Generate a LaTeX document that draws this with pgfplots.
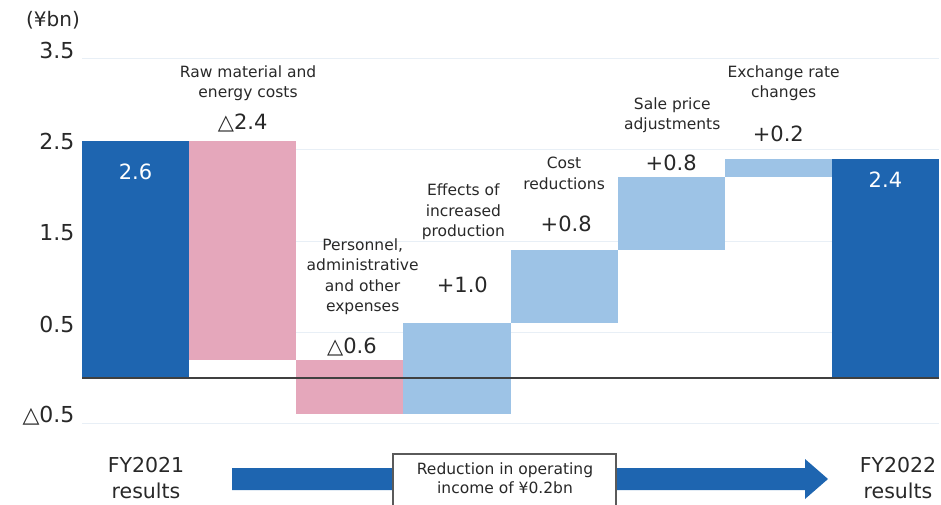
\documentclass[border=0pt]{standalone}
\usepackage{pgfplots}
\pgfplotsset{compat=1.18}
\usepackage{fontspec}
\setmainfont{DejaVu Sans}
\definecolor{dblue}{RGB}{30,101,176}
\definecolor{pinkb}{RGB}{229,167,187}
\definecolor{lblue}{RGB}{157,195,230}
\definecolor{gridc}{RGB}{232,239,246}
\definecolor{txt}{RGB}{40,40,40}
\newcommand\catf{\fontsize{15.5}{20.5}\selectfont}
\newcommand\valf{\fontsize{21}{24}\selectfont}
\begin{document}
\begin{tikzpicture}[x=1pt,y=1pt]
\useasboundingbox (0,0) rectangle (941,504);
\clip (0,0) rectangle (941,504);
\begin{axis}[
 at={(82pt,80.4pt)}, anchor=south west,
 scale only axis, width=857pt, height=365pt,
 xmin=-0.5, xmax=7.5, ymin=-0.5, ymax=3.5,
 axis line style={draw=none},
 xtick=\empty,
 ytick={-0.5,0.5,1.5,2.5,3.5},
 yticklabels={△0.5,0.5,1.5,2.5,3.5},
 major tick length=0pt,
 ymajorgrids, grid style={gridc, line width=0.8pt},
 yticklabel style={font=\fontsize{22}{24}\selectfont, text=txt, yshift=8pt, xshift=-4pt},
 /pgf/number format/assume math mode=true,
 clip=false,
]
% waterfall bars: (x-0.5,low) (x+0.5,low) (x+0.5,high) (x-0.5,high)
\addplot[fill=dblue, draw=none] coordinates {(-0.5,0) (0.5,0) (0.5,2.6) (-0.5,2.6)};
\addplot[fill=pinkb, draw=none] coordinates {(0.5,0.2) (1.5,0.2) (1.5,2.6) (0.5,2.6)};
\addplot[fill=pinkb, draw=none] coordinates {(1.5,-0.4) (2.5,-0.4) (2.5,0.2) (1.5,0.2)};
\addplot[fill=lblue, draw=none] coordinates {(2.5,-0.4) (3.5,-0.4) (3.5,0.6) (2.5,0.6)};
\addplot[fill=lblue, draw=none] coordinates {(3.5,0.6) (4.5,0.6) (4.5,1.4) (3.5,1.4)};
\addplot[fill=lblue, draw=none] coordinates {(4.5,1.4) (5.5,1.4) (5.5,2.2) (4.5,2.2)};
\addplot[fill=lblue, draw=none] coordinates {(5.5,2.2) (6.5,2.2) (6.5,2.4) (5.5,2.4)};
\addplot[fill=dblue, draw=none] coordinates {(6.5,0) (7.5,0) (7.5,2.4) (6.5,2.4)};
\draw[color={rgb,255:red,64;green,64;blue,64}, line width=1.2pt] (axis cs:-0.5,0) -- (axis cs:7.5,0);
% category labels
\node[align=center, font=\catf, text=txt] at (axis cs:1.05,3.23) {Raw material and\\energy costs};
\node[align=center, font=\catf, text=txt] at (axis cs:2.12,1.107) {Personnel,\\administrative\\and other\\expenses};
\node[align=center, font=\catf, text=txt] at (axis cs:3.06,1.82) {Effects of\\increased\\production};
\node[align=center, font=\catf, text=txt] at (axis cs:4.0,2.24) {Cost\\reductions};
\node[align=center, font=\catf, text=txt] at (axis cs:5.01,2.88) {Sale price\\adjustments};
\node[align=center, font=\catf, text=txt] at (axis cs:6.05,3.23) {Exchange rate\\changes};
% value labels
\node[font=\valf, text=txt] at (axis cs:1.0,2.79) {△2.4};
\node[font=\valf, text=txt] at (axis cs:2.02,0.34) {△0.6};
\node[font=\valf, text=txt] at (axis cs:3.05,1.02) {+1.0};
\node[font=\valf, text=txt] at (axis cs:4.02,1.69) {+0.8};
\node[font=\valf, text=txt] at (axis cs:5.0,2.36) {+0.8};
\node[font=\valf, text=txt] at (axis cs:6.0,2.68) {+0.2};
\node[font=\valf, text=white] at (axis cs:0,2.26) {2.6};
\node[font=\valf, text=white] at (axis cs:7,2.17) {2.4};
\end{axis}
\node[font=\fontsize{20}{22}\selectfont, text=txt] at (53,484) {(¥bn)};
\node[align=center, font=\fontsize{20.5}{26}\selectfont, text=txt] at (146,26) {FY2021\\results};
\node[align=center, font=\fontsize{20.5}{26}\selectfont, text=txt] at (898,26) {FY2022\\results};
\fill[dblue] (232,36) -- (805,36) -- (805,45) -- (828,25) -- (805,5) -- (805,14) -- (232,14) -- cycle;
\draw[fill=white, draw={rgb,255:red,90;green,90;blue,90}, line width=1.2pt] (393,50) rectangle (616,-10);
\node[align=center, font=\fontsize{15.5}{19}\selectfont, text=txt] at (505,25.5) {Reduction in operating\\income of ¥0.2bn};
\end{tikzpicture}
\end{document}
